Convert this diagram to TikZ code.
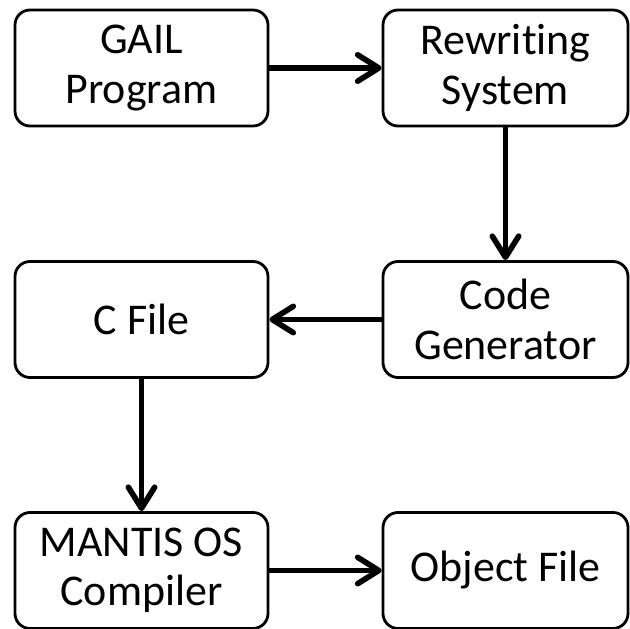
\documentclass[tikz,border=0pt]{standalone}
\usepackage{fontspec}
\setmainfont[Ligatures=NoCommon]{Carlito}
\usetikzlibrary{calc,arrows.meta}

\begin{document}
\begin{tikzpicture}[stage/.style={draw,rounded corners=0.3cm,line width=1.6pt,minimum height=2.32cm,align=center,font={\fontsize{25}{28}\selectfont}},
                    leftstage/.style={stage,minimum width=5.06cm},
                    rightstage/.style={stage,minimum width=4.9cm},
                    flow/.style={-{Straight Barb[round,length=12pt,width=15pt]},line width=3.2pt}]
    \useasboundingbox (0,0) rectangle (12.6,12.58);

    \node[leftstage] (gail) at (2.83,11.22) {GAIL\\Program};
    \node[rightstage] (rewrite) at ($ (gail) + (7.28,0) $) {Rewriting\\System};
    \node[rightstage] (codegen) at ($ (rewrite) + (0,-5.03) $) {Code\\Generator};
    \node[leftstage] (cfile) at ($ (gail) + (0,-5.03) $) {C File};
    \node[leftstage] (mantis) at ($ (cfile) + (0,-5.02) $) {MANTIS OS\\Compiler};
    \node[rightstage] (object) at ($ (mantis) + (7.28,0) $) {Object File};

    \draw[flow] (gail.east) -- (rewrite.west);
    \draw[flow] (rewrite.south) -- (codegen.north);
    \draw[flow] (codegen.west) -- (cfile.east);
    \draw[flow] (cfile.south) -- (mantis.north);
    \draw[flow] (mantis.east) -- (object.west);
\end{tikzpicture}
\end{document}
